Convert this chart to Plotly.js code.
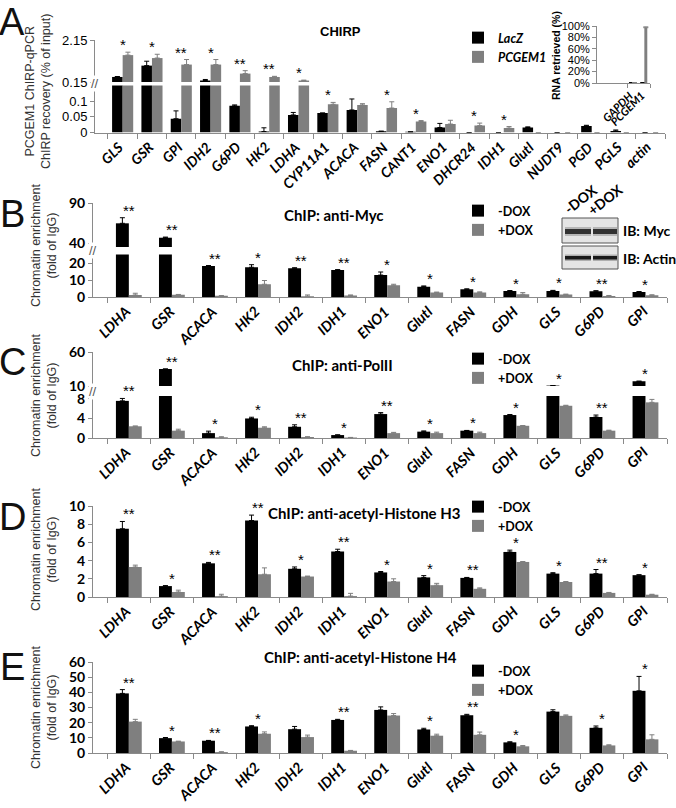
<!DOCTYPE html>
<html><head><meta charset="utf-8">
<script src="https://cdn.plot.ly/plotly-3.0.1.min.js"></script>
<style>html,body{margin:0;padding:0;background:#fff}#chart{width:676px;height:808px}</style>
</head><body><div id="chart"></div>
<script>
// ---------- DATA ----------
// Panel A: ChIRP
const catsA = ['GLS','GSR','GPI','IDH2','G6PD','HK2','LDHA','CYP11A1','ACACA','FASN','CANT1','ENO1','DHCR24','IDH1','Glutl','NUDT9','PGD','PGLS','actin'];
const lacZ   = [0.39,0.93,0.044,0.22,0.085,0.003,0.056,0.062,0.072,0.004,0.002,0.016,0,0,0.016,0,0.021,0.005,0];
const lacZErr= [0.02,0.21,0.025,0.05,0.003,0.012,0.008,0,0.035,0,0,0.013,0,0,0.002,0,0.002,0.003,0];
const pcgem1 = [1.43,1.29,0.98,0.98,0.55,0.39,0.22,0.090,0.088,0.078,0.035,0.027,0.022,0.014,0,0,0,0,0];
const pcgem1Err=[0.14,0.18,0.24,0.24,0.14,0.03,0.02,0.006,0.004,0.02,0.003,0.012,0.008,0.005,0,0,0,0,0];
const sigA = ['*','*','**','*','**','**','*','*','','*','*','','*','*','','','','',''];
// Panel A inset
const catsInset = ['GAPDH','PCGEM1'];
const lacZInset = [0.5,0.5];
const pcgem1Inset = [0.5,97];
const pcgem1InsetErr = [0,1.5];
const insetTicks = [0,20,40,60,80,100];
const insetTickText = ['0%','20%','40%','60%','80%','100%'];

// Panels B-E: ChIP
const catsChIP = ['LDHA','GSR','ACACA','HK2','IDH2','IDH1','ENO1','Glutl','FASN','GDH','GLS','G6PD','GPI'];
// B anti-Myc
const mycMinus    = [64.6,46.6,18.2,17.5,16.9,15.9,12.9,6.1,4.5,3.5,3.6,3.4,2.9];
const mycMinusErr = [7,0.8,0.3,1.5,0.3,0.2,1.8,0.4,0.3,0.3,0.3,0.3,0.3];
const mycPlus     = [1.2,1.3,0.7,7.5,0.5,0.9,6.9,2.6,2.7,1.6,1.4,0.6,1.0];
const mycPlusErr  = [1.0,0.2,0.1,2.2,0.7,0.3,0.6,0.3,0.3,1.0,0.3,0.3,0.3];
const sigB = ['**','**','**','*','**','**','*','*','*','*','*','**','*'];
// C anti-PolII
const polMinus    = [7.6,35,1.0,4.0,2.3,0.6,4.9,1.3,1.5,4.7,10.6,4.3,17];
const polMinusErr = [0.5,0,0.4,0.25,0.4,0.05,0.3,0.15,0.05,0.1,0,0.4,0];
const polPlus     = [2.4,1.5,0.15,2.1,0.2,0.1,1.0,1.0,1.0,2.5,6.6,1.5,7.3];
const polPlusErr  = [0.05,0.3,0.1,0.2,0.05,0.02,0.15,0.2,0.2,0.05,0.1,0.1,0.6];
const sigC = ['**','**','*','*','**','*','**','*','*','*','*','**','*'];
// D acetyl-H3
const h3Minus    = [7.5,1.2,3.7,8.4,3.1,5.0,2.7,2.15,2.1,4.95,2.57,2.57,2.4];
const h3MinusErr = [0.8,0.05,0.1,0.6,0.2,0.25,0.1,0.2,0.05,0.2,0.1,0.45,0.05];
const h3Plus     = [3.3,0.55,0.1,2.5,2.25,0.1,1.7,1.3,0.9,3.85,1.65,0.45,0.25];
const h3PlusErr  = [0.2,0.2,0.2,0.7,0.05,0.3,0.3,0.2,0.1,0.05,0.05,0.05,0.05];
const sigD = ['**','*','**','**','*','**','*','*','**','*','*','**','*'];
// E acetyl-H4
const h4Minus    = [39.3,9.8,8.1,17.5,15.7,21.8,28.4,15.5,24.9,7.0,27.3,16.6,41.0];
const h4MinusErr = [2.5,0.4,0.2,0.5,1.8,0.4,2,0.8,0.6,0.4,1.2,1.2,9.5];
const h4Plus     = [20.7,7.6,0.6,12.7,10.5,1.5,24.7,11.4,12.0,4.4,24.5,5.0,9.0];
const h4PlusErr  = [1.5,0.2,0.2,1.2,1.3,0.2,1.3,1.0,1.8,0.5,0.6,0.4,3];
const sigE = ['**','*','**','*','','**','','*','**','*','','*','*'];

const seriesA = ['<i>LacZ</i>','<i>PCGEM1</i>'];
const seriesDox = ['-DOX','+DOX'];

// ---------- HELPERS ----------
const W=676,H=808;
const px = v => v/W;
const py = v => 1 - v/H;
const yd = (top,bottom) => [py(bottom), py(top)];
const BLACK = '#000000', GREY = '#7f7f7f', AXC = '#8a8a8a';
const CAL = 'Lato, Carlito, Calibri, sans-serif';
const ARI = '"Liberation Sans", Arial, sans-serif';

function barPair(cats, a, ea, b, eb, names, xa, ya, leg, show, w){
  const z = cats.map(()=>0);
  const mk = (vals, err, name, col, off) => ({
    type:'bar', x:cats, y:vals, name:name, xaxis:xa, yaxis:ya,
    width:w, offset:off, marker:{color:col, line:{width:0}},
    error_y:{type:'data', symmetric:false, array:err, arrayminus:z, color:col, thickness:1, width:2.5},
    legend:leg, showlegend:show, hoverinfo:'skip'
  });
  return [mk(a, ea, names[0], BLACK, -w), mk(b, eb, names[1], GREY, 0)];
}

const annotations = [];
const starFont = {family:ARI, size:15, color:'#000'};
function addStars(cats, a, ea, b, eb, sig, xref, lowRef, lowMax, upRef){
  cats.forEach((c,i)=>{
    if(!sig[i]) return;
    const top = Math.max(a[i]+ea[i], b[i]+eb[i]);
    const yref = (upRef && top > lowMax) ? upRef : lowRef;
    annotations.push({x:c, y:top, xref:xref, yref:yref, text:sig[i], showarrow:false,
      xanchor:'center', yanchor:'bottom', yshift:-3, font:starFont});
  });
}
// rotated category labels under an x axis (end of the text at the category)
function catLabels(cats, xref, axisBottom, fsize, xshift){
  cats.forEach(c=>{
    annotations.push({x:c, xref:xref, y:py(axisBottom+3), yref:'paper', text:'<b><i>'+c+'</i></b>', showarrow:false,
      textangle:-45, xanchor:'right', yanchor:'top', xshift:xshift,
      font:{family:CAL, size:fsize, color:'#000'}});
  });
}

function xAxis(dom, anchor, cats){
  return {domain:dom, anchor:anchor, type:'category', categoryorder:'array', categoryarray:cats,
    tickson:'boundaries', ticks:'outside', ticklen:5, tickcolor:AXC, showline:true, linecolor:AXC,
    linewidth:1, showticklabels:false, showgrid:false, zeroline:false, fixedrange:true};
}
function yAxis(dom, anchor, range, tickvals, font, extra){
  return Object.assign({domain:dom, anchor:anchor, range:range, tickvals:tickvals,
    ticks:'outside', ticklen:4, tickcolor:AXC, showline:true, linecolor:AXC, linewidth:1,
    showgrid:false, zeroline:false, fixedrange:true, tickfont:font}, extra||{});
}

// ---------- TRACES ----------
let data = [];
data = data.concat(barPair(catsA, lacZ, lacZErr, pcgem1, pcgem1Err, seriesA, 'x','y','legend', true, 0.36));
data = data.concat(barPair(catsA, lacZ, lacZErr, pcgem1, pcgem1Err, seriesA, 'x','y2','legend', false, 0.36));
data = data.concat(barPair(catsInset, lacZInset, [0,0], pcgem1Inset, pcgem1InsetErr, seriesA, 'x2','y3','legend', false, 0.26));
data = data.concat(barPair(catsChIP, mycMinus, mycMinusErr, mycPlus, mycPlusErr, seriesDox, 'x3','y4','legend2', true, 0.3));
data = data.concat(barPair(catsChIP, mycMinus, mycMinusErr, mycPlus, mycPlusErr, seriesDox, 'x3','y5','legend2', false, 0.3));
data = data.concat(barPair(catsChIP, polMinus, polMinusErr, polPlus, polPlusErr, seriesDox, 'x4','y6','legend3', true, 0.3));
data = data.concat(barPair(catsChIP, polMinus, polMinusErr, polPlus, polPlusErr, seriesDox, 'x4','y7','legend3', false, 0.3));
data = data.concat(barPair(catsChIP, h3Minus, h3MinusErr, h3Plus, h3PlusErr, seriesDox, 'x5','y8','legend4', true, 0.3));
data = data.concat(barPair(catsChIP, h4Minus, h4MinusErr, h4Plus, h4PlusErr, seriesDox, 'x6','y9','legend5', true, 0.3));

// ---------- STARS ----------
addStars(catsA, lacZ, lacZErr, pcgem1, pcgem1Err, sigA, 'x', 'y', 0.15, 'y2');
addStars(catsChIP, mycMinus, mycMinusErr, mycPlus, mycPlusErr, sigB, 'x3', 'y4', 25, 'y5');
addStars(catsChIP, polMinus, polMinusErr, polPlus, polPlusErr, sigC, 'x4', 'y6', 8.6, 'y7');
addStars(catsChIP, h3Minus, h3MinusErr, h3Plus, h3PlusErr, sigD, 'x5', 'y8', 10, null);
addStars(catsChIP, h4Minus, h4MinusErr, h4Plus, h4PlusErr, sigE, 'x6', 'y9', 60, null);

// ---------- CATEGORY LABELS ----------
catLabels(catsA, 'x', 132.5, 14, 7);
catLabels(catsInset, 'x2', 83, 11, 5);
catLabels(catsChIP, 'x3', 297, 14.5, 8);
catLabels(catsChIP, 'x4', 438, 14.5, 8);
catLabels(catsChIP, 'x5', 597, 14.5, 8);
catLabels(catsChIP, 'x6', 753, 14.5, 8);

// ---------- TEXT ----------
function paperText(x, y, text, font, extra){
  annotations.push(Object.assign({xref:'paper', yref:'paper', x:px(x), y:py(y), text:text,
    showarrow:false, xanchor:'center', yanchor:'middle', font:font}, extra||{}));
}
const letterFont = {family:ARI, size:38, color:'#111'};
paperText(12,22,'A',letterFont); paperText(12,214,'B',letterFont);
paperText(12,362,'C',letterFont); paperText(12,517,'D',letterFont); paperText(12,667,'E',letterFont);

const ytFont = {family:ARI, size:12.5, color:'#333'};
paperText(38,92,'PCGEM1 ChIRP-qPCR<br>ChIRP recovery (% of input)', ytFont, {textangle:-90});
const chromTxt = 'Chromatin enrichment<br>(fold of IgG)';
paperText(44,246,chromTxt, ytFont, {textangle:-90});
paperText(44,396,chromTxt, ytFont, {textangle:-90});
paperText(44,550,chromTxt, ytFont, {textangle:-90});
paperText(44,708,chromTxt, ytFont, {textangle:-90});

const ttlFont = {family:CAL, size:15, color:'#000'};
paperText(340,31,'<b>CHIRP</b>', {family:ARI, size:13, color:'#000'});
paperText(334,215,'<b>ChIP: anti-Myc</b>', ttlFont);
paperText(342,365,'<b>ChIP: anti-PolII</b>', ttlFont);
paperText(364,513,'<b>ChIP: anti-acetyl-Histone H3</b>', ttlFont);
paperText(360,657,'<b>ChIP: anti-acetyl-Histone H4</b>', ttlFont);

paperText(556,56,'<b>RNA retrieved (%)</b>', {family:ARI, size:10.5, color:'#000'}, {textangle:-90});

const brk = {family:ARI, size:13, color:'#555'};
paperText(95,84,'//',brk,{bgcolor:'#fff', borderpad:0});
paperText(93,251,'//',brk,{bgcolor:'#fff', borderpad:0});
paperText(93,391,'//',brk,{bgcolor:'#fff', borderpad:0});

const blotFont = {family:CAL, size:14, color:'#000'};
paperText(580,199,'<b>-DOX</b>', blotFont, {textangle:-38});
paperText(605,199,'<b>+DOX</b>', blotFont, {textangle:-38});
paperText(621,231,'<b>IB: Myc</b>', blotFont, {xanchor:'left'});
paperText(621,258,'<b>IB: Actin</b>', blotFont, {xanchor:'left'});

// ---------- SHAPES (western blot picture) ----------
const shapes = [];
function rect(x0,y0,x1,y1,fill,line,op){
  shapes.push({type:'rect', xref:'paper', yref:'paper', x0:px(x0), x1:px(x1), y0:py(y1), y1:py(y0),
    fillcolor:fill, opacity:op==null?1:op, line:line||{width:0}, layer:'above'});
}
rect(562,218,618,243,'#e4e4e4',{color:'#555',width:1});
rect(562,246,618,269,'#e4e4e4',{color:'#555',width:1});
[[565,591],[593,617]].forEach(l=>{
  rect(l[0],227,l[1],236,'#888',null,0.5);
  rect(l[0],229,l[1],234,'#222',null,0.9);
  rect(l[0],254.5,l[1],261,'#777',null,0.5);
  rect(l[0],256,l[1],259.5,'#111',null,0.95);
});

// ---------- LAYOUT ----------
const yFontA = {family:ARI, size:13, color:'#000'};
const yFontB = {family:CAL, size:14, weight:'bold', color:'#000'};
const legBase = (x,y)=>({x:px(x), y:py(y), xanchor:'left', yanchor:'top', bgcolor:'rgba(0,0,0,0)',
  font:{family:CAL, size:12.5, weight:'bold', color:'#000'}, tracegroupgap:0, itemwidth:30});

const layout = {
  width:W, height:H, margin:{l:0,r:0,t:0,b:0}, paper_bgcolor:'#fff', plot_bgcolor:'rgba(0,0,0,0)',
  barmode:'overlay', hovermode:false, showlegend:true,
  xaxis: xAxis([px(95),px(665)],'y',catsA),
  yaxis: yAxis(yd(85.5,132.5),'x',[0,0.15],[0,0.05,0.1],yFontA,{ticktext:['0','0.05','0.1']}),
  yaxis2: yAxis(yd(40,82),'x',[0.15,2.15],[0.15,2.15],yFontA,{ticktext:['0.15','2.15']}),
  xaxis2: Object.assign(xAxis([px(597),px(650)],'y3',catsInset), {ticklen:4}),
  yaxis3: yAxis(yd(26,83),'x2',[0,100],insetTicks,{family:ARI,size:11,color:'#000'},{ticktext:insetTickText}),
  xaxis3: xAxis([px(93),px(667)],'y4',catsChIP),
  yaxis4: yAxis(yd(254.5,297),'x3',[0,25],[0,10,20],yFontB),
  yaxis5: yAxis(yd(203,247),'x3',[35,90],[40,90],yFontB),
  xaxis4: xAxis([px(93),px(667)],'y6',catsChIP),
  yaxis6: yAxis(yd(396,438),'x4',[0,8.6],[0,4,8],yFontB),
  yaxis7: yAxis(yd(352,386),'x4',[10,60],[10,60],yFontB),
  xaxis5: xAxis([px(93),px(667)],'y8',catsChIP),
  yaxis8: yAxis(yd(506,597),'x5',[0,10],[0,2,4,6,8,10],yFontB),
  xaxis6: xAxis([px(93),px(667)],'y9',catsChIP),
  yaxis9: yAxis(yd(662,753),'x6',[0,60],[0,10,20,30,40,50,60],yFontB),
  legend: legBase(458,23),
  legend2: legBase(458,196),
  legend3: legBase(458,344),
  legend4: legBase(458,492),
  legend5: legBase(458,656),
  annotations: annotations,
  shapes: shapes
};

Plotly.newPlot('chart', data, layout, {staticPlot:true, displayModeBar:false});
</script>
</body></html>
